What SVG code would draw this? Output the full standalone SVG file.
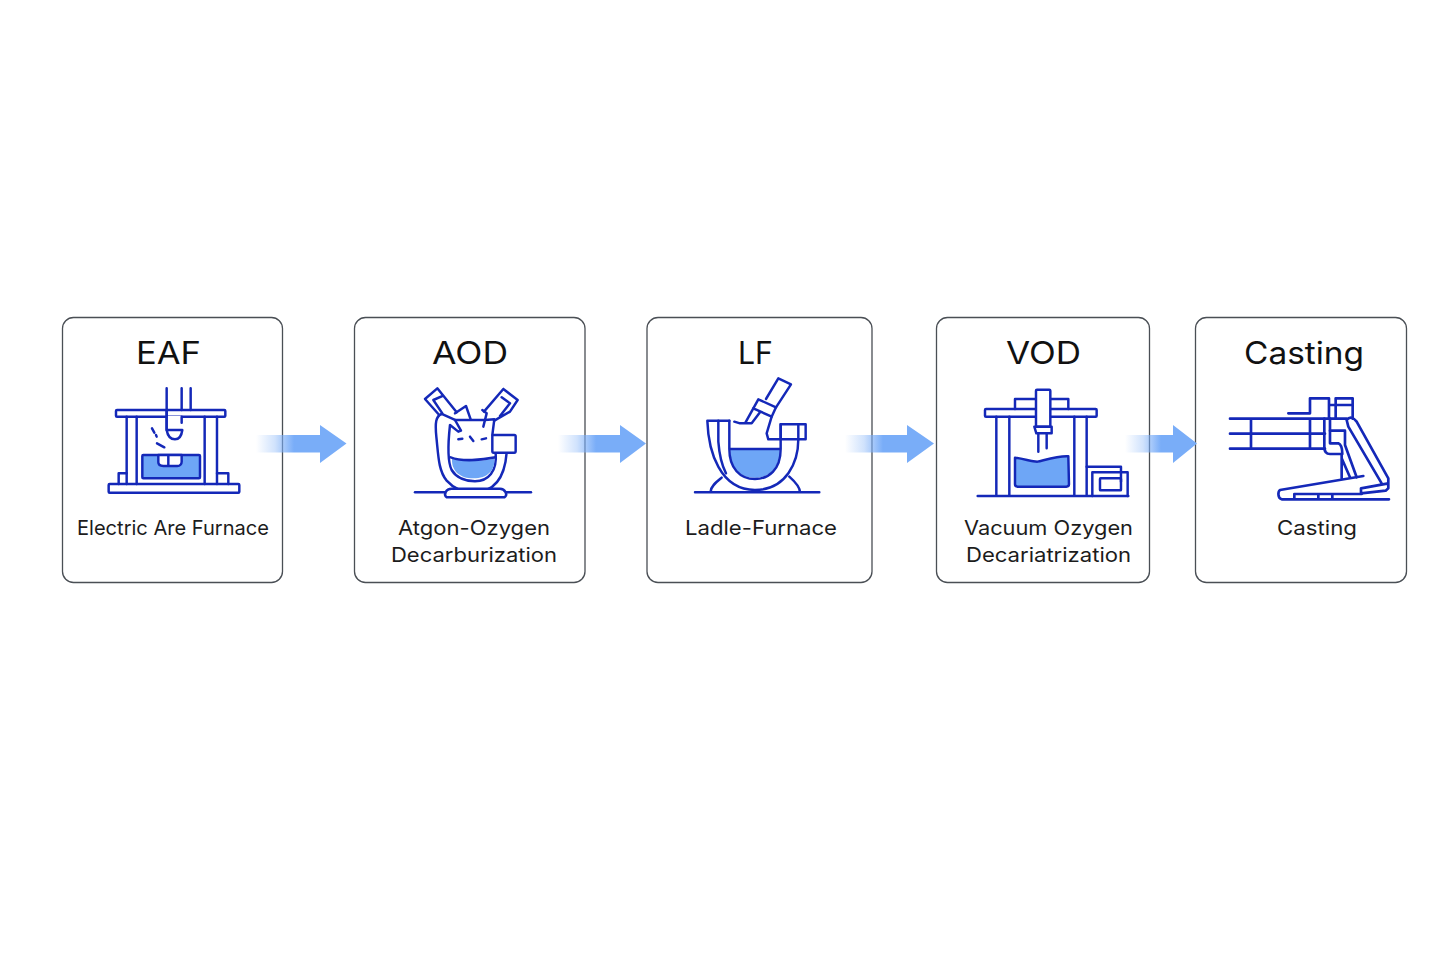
<svg xmlns="http://www.w3.org/2000/svg" width="1440" height="960" viewBox="0 0 1440 960">
<style>
.card{fill:#fff;stroke:#4a4f55;stroke-width:1.3}
.t{font-family:Inter,"Liberation Sans",sans-serif;font-size:31px;fill:#111;font-weight:400}
.d{font-family:Inter,"Liberation Sans",sans-serif;font-size:20px;fill:#1c1c1c;font-weight:400}
.i{fill:none;stroke:#1428b8;stroke-width:7.4;stroke-linejoin:round;stroke-linecap:round}
.w{fill:#fff}
.b{fill:#6ea6f6}
.n{stroke:none}
.a{stroke:none}
</style>
<defs>
<linearGradient id="g1" gradientUnits="userSpaceOnUse" x1="256" x2="294" y1="0" y2="0"><stop offset="0" stop-color="#79adf8" stop-opacity="0"/><stop offset=".5" stop-color="#79adf8" stop-opacity=".35"/><stop offset="1" stop-color="#79adf8"/></linearGradient>
<linearGradient id="g2" gradientUnits="userSpaceOnUse" x1="558" x2="596" y1="0" y2="0"><stop offset="0" stop-color="#79adf8" stop-opacity="0"/><stop offset=".5" stop-color="#79adf8" stop-opacity=".35"/><stop offset="1" stop-color="#79adf8"/></linearGradient>
<linearGradient id="g3" gradientUnits="userSpaceOnUse" x1="845" x2="883" y1="0" y2="0"><stop offset="0" stop-color="#79adf8" stop-opacity="0"/><stop offset=".5" stop-color="#79adf8" stop-opacity=".35"/><stop offset="1" stop-color="#79adf8"/></linearGradient>
<linearGradient id="g4" gradientUnits="userSpaceOnUse" x1="1125" x2="1161" y1="0" y2="0"><stop offset="0" stop-color="#79adf8" stop-opacity="0"/><stop offset=".5" stop-color="#79adf8" stop-opacity=".35"/><stop offset="1" stop-color="#79adf8"/></linearGradient>
</defs>
<rect width="1440" height="960" fill="#fff"/>

<g id="eaf">
<rect class="card" x="62.5" y="317.5" width="220" height="265" rx="11"/>
<text class="t" x="136" y="364" textLength="65" lengthAdjust="spacingAndGlyphs">EAF</text>
<g class="i" transform="translate(100 380) scale(.3333)">
<path d="M200 25V150M245 25V90M272 25V90"/>
<rect x="48" y="90" width="328" height="20" rx="3"/>
<path class="w n" d="M203 108H243V150H203Z"/>
<path d="M200 90V150M200 150C203 168 212 178 225 178C238 178 245 165 247 150H200M245 110V128"/>
<path d="M80 110V312M110 110V312M314 110V312M351 110V312"/>
<rect x="26" y="312" width="392" height="26" rx="3"/>
<path d="M80 280H56V312M351 280H385V312"/>
<rect class="b" x="127" y="225" width="173" height="70" rx="3"/>
<path class="w" d="M175 225V247C175 256 182 258 190 258H205V225ZM205 258H232C240 258 245 252 245 245V225H205Z"/>
<path d="M156 145L163 158M168 165L170 170M171 190L193 202"/>
</g>
<text class="d" x="77" y="535" textLength="192" lengthAdjust="spacingAndGlyphs">Electric Are Furnace</text>
</g>

<g id="aod">
<rect class="card" x="354.5" y="317.5" width="230.500" height="265" rx="11"/>
<text class="t" x="432" y="364" textLength="76" lengthAdjust="spacingAndGlyphs">AOD</text>
<g class="i" transform="translate(405 380) scale(.3333)">
<path d="M60 57L97 25L155 97M60 57L100 102M85 60L115 47M85 60L112 100"/>
<path d="M295 27L338 60L315 95L268 122M295 27L237 95M290 52L315 70L285 108"/>
<path d="M150 100L183 78L197 118"/>
<path d="M110 102C92 108 90 130 94 170C100 225 100 272 125 302C150 330 180 337 205 337C255 337 298 310 305 218"/>
<path d="M110 102L150 120L168 152L160 155L135 135C130 180 125 240 140 270C155 295 185 304 210 304C250 304 277 275 272 218"/>
<path d="M150 120H240L268 118L262 165"/>
<path d="M232 90L245 100L235 140"/>
<path class="b n" d="M141 236C170 248 230 243 268 236C271 270 248 295 205 295C168 295 139 275 141 236Z"/>
<path d="M137 232C170 245 230 240 272 232"/>
<rect class="w" x="262" y="165" width="70" height="53" rx="4"/>
<path d="M160 178L172 176M195 170L205 183M230 178L243 175"/>
<path d="M30 337H378"/>
<path d="M125 352C115 345 122 326 140 326H285C300 326 310 345 298 352Z" class="w"/>
</g>
<text class="d" x="398" y="535" textLength="152" lengthAdjust="spacingAndGlyphs">Atgon-Ozygen</text>
<text class="d" x="391" y="562" textLength="166" lengthAdjust="spacingAndGlyphs">Decarburization</text>
</g>

<g id="lf">
<rect class="card" x="647" y="317.5" width="225" height="265" rx="11"/>
<text class="t" x="738" y="364" textLength="35" lengthAdjust="spacingAndGlyphs">LF</text>
<g class="i" transform="translate(690 375) scale(.3333)">
<path d="M228 72L265 10L303 28L258 97"/>
<path d="M205 73L258 97L245 125L190 100Z"/>
<path d="M190 100L165 145M133 140L150 145H185L210 112M245 125L230 175L235 193H272"/>
<path d="M118 137H52C55 230 90 345 195 345C290 345 325 260 325 193"/>
<path d="M85 137V200C88 240 95 270 108 295"/>
<path class="b n" d="M121 225H269C269 282 235 308 195 308C150 308 121 280 121 225Z"/>
<path d="M118 137V222C118 280 150 312 195 312C235 312 272 285 272 222H118M272 222V148"/>
<rect x="272" y="148" width="75" height="45"/>
<path d="M325 148V193"/>
<path d="M62 352C60 335 80 320 95 308M330 352C330 335 315 320 298 305M15 352H388"/>
</g>
<text class="d" x="685" y="535" textLength="152" lengthAdjust="spacingAndGlyphs">Ladle-Furnace</text>
</g>

<g id="vod">
<rect class="card" x="936.500" y="317.5" width="213" height="265" rx="11"/>
<text class="t" x="1006" y="364" textLength="75" lengthAdjust="spacingAndGlyphs">VOD</text>
<g class="i" transform="translate(975 385) scale(.3333)">
<path d="M120 72V42H280V72"/>
<rect x="30" y="72" width="335" height="23" rx="3"/>
<rect class="w" x="183" y="14" width="43" height="111" rx="3"/>
<path class="w" d="M178 125H230V145H184Z"/>
<path d="M190 145V200M215 145V190"/>
<path d="M64 95V333M103 95V333M298 95V333M335 95V333M8 333H460"/>
<path class="b" d="M120 218C150 222 170 230 187 230C210 225 250 212 280 214L282 298Q282 305 274 305H128Q120 305 120 298Z"/>
<path d="M335 245H438V290M352 333V262H458V333"/>
<rect x="375" y="280" width="63" height="36" rx="2"/>
</g>
<text class="d" x="964" y="535" textLength="169" lengthAdjust="spacingAndGlyphs">Vacuum Ozygen</text>
<text class="d" x="966" y="562" textLength="165" lengthAdjust="spacingAndGlyphs">Decariatrization</text>
</g>

<g id="casting">
<rect class="card" x="1195.500" y="317.5" width="211" height="265" rx="11"/>
<text class="t" x="1244" y="364" textLength="120" lengthAdjust="spacingAndGlyphs">Casting</text>
<g class="i" transform="translate(1225 390) scale(.3333)" stroke-linecap="butt" style="stroke-width:8">
<path d="M15 86H365M15 131H300M15 176H300M78 86V176M255 86V176"/>
<path d="M298 86V170C298 185 305 192 315 192H352M315 86V160H340Q352 165 352 192"/>
<path d="M190 70H255V25H312V86M312 45H332M332 86V25H383V86M332 45H383"/>
<path d="M315 122H360V165L395 262M350 192V265M350 205L375 262"/>
<path d="M365 90C375 78 385 82 395 95L490 265V295L482 302L408 310V295L490 280M365 90L370 110L470 280"/>
<path d="M415 258L165 300C158 305 158 325 170 328H492M208 328V312H410M280 312V328M322 312V328"/>
</g>
<text class="d" x="1277" y="535" textLength="80" lengthAdjust="spacingAndGlyphs">Casting</text>
</g>

<g id="connectors">
<path class="a" fill="url(#g1)" d="M256 435H320V425L346.500 443.500L320 463V452.500H256Z"/>
<path class="a" fill="url(#g2)" d="M558 435H620V425L646 443.500L620 463V452.500H558Z"/>
<path class="a" fill="url(#g3)" d="M845 435H907V425L934 443.500L907 463V452.500H845Z"/>
<path class="a" fill="url(#g4)" d="M1125 435H1173V425L1197 443.500L1173 463V452.500H1125Z"/>
</g>
</svg>
